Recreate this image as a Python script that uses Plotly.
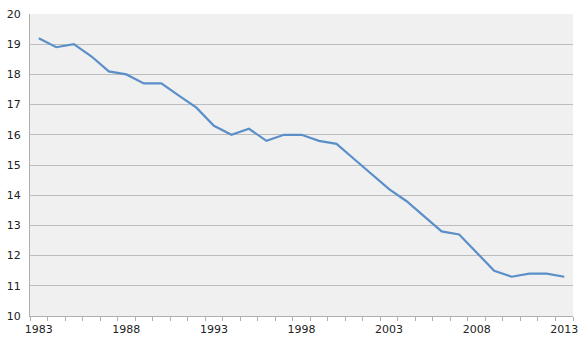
import plotly.graph_objects as go

years = list(range(1983, 2014))
values = [19.2, 18.9, 19.0, 18.6, 18.1, 18.0, 17.7, 17.7, 17.3, 16.9,
          16.3, 16.0, 16.2, 15.8, 16.0, 16.0, 15.8, 15.7, 15.2, 14.7,
          14.2, 13.8, 13.3, 12.8, 12.7, 12.1, 11.5, 11.3, 11.4, 11.4, 11.3]
x_ticks = [1983, 1988, 1993, 1998, 2003, 2008, 2013]
y_ticks = list(range(10, 21))

fig = go.Figure(go.Scatter(x=years, y=values, mode="lines",
                           line=dict(color="#5b8fc9", width=2.2)))

fig.update_layout(
    width=585, height=343,
    margin=dict(l=30, r=7, t=14, b=23),
    paper_bgcolor="white", plot_bgcolor="#f0f0f0",
    showlegend=False,
    font=dict(family="DejaVu Sans", size=11, color="#222222"),
)
fig.update_xaxes(
    range=[1982.5, 2013.5], tickvals=x_ticks, ticktext=[str(v) for v in x_ticks],
    showgrid=False, zeroline=False, showline=True, linecolor="#b0b0b0", linewidth=1,
    ticks="", ticklabelstandoff=3,
    minor=dict(tick0=1982.5, dtick=1, ticks="outside", ticklen=4, tickcolor="#b0b0b0", showgrid=False),
)
fig.update_yaxes(
    range=[10, 20], tickvals=y_ticks, showgrid=True, gridcolor="#bdbdbd", gridwidth=1,
    zeroline=False, showline=True, linecolor="#b0b0b0", linewidth=1, ticks="",
    ticklabelstandoff=6,
)
fig.write_html("out.html")
